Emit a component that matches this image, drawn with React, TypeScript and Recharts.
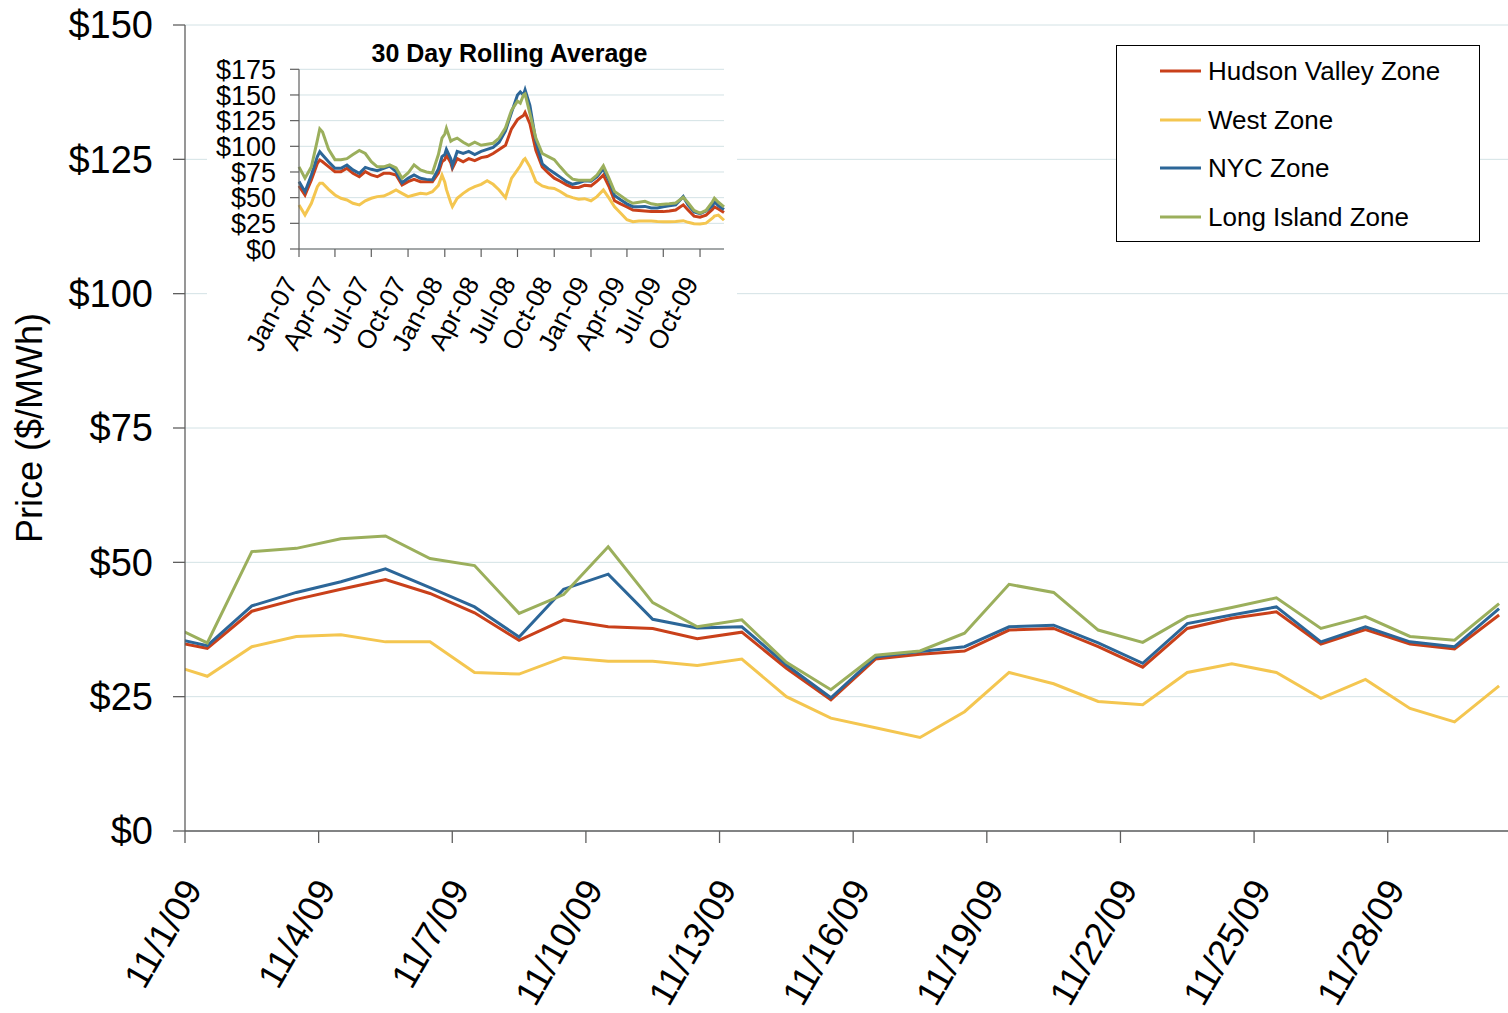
import React from 'react';
import { LineChart, Line, XAxis, YAxis, CartesianGrid, Legend } from 'recharts';

const FONT = '"Liberation Sans", Arial, Helvetica, sans-serif';
const AXIS = '#5f5f5f';
const GRID = '#d3e2e5';

const C_HV = '#C9401A';
const C_WEST = '#F4C650';
const C_NYC = '#2C6698';
const C_LI = '#9BAF5C';

const seriesNames = ['Hudson Valley Zone', 'West Zone', 'NYC Zone', 'Long Island Zone'];

// ---------- Main chart: daily prices, November 2009 (day 0 = 10/31/09) ----------
const days = [0, 1, 2, 3, 4, 5, 6, 7, 8, 9, 10, 11, 12, 13, 14, 15, 16, 17, 18, 19, 20, 21, 22, 23, 24, 25, 26, 27, 28, 29, 30];
const hudsonValley = [35.6, 34.0, 40.9, 43.1, 45.0, 46.8, 44.2, 40.6, 35.5, 39.3, 38.0, 37.7, 35.8, 37.0, 30.3, 24.4, 32.0, 32.9, 33.5, 37.4, 37.7, 34.3, 30.5, 37.7, 39.6, 40.8, 34.8, 37.5, 34.8, 33.9, 40.2];
const westZone = [31.4, 28.8, 34.3, 36.2, 36.5, 35.2, 35.2, 29.5, 29.2, 32.3, 31.6, 31.6, 30.8, 32.0, 25.0, 21.0, 19.2, 17.4, 22.2, 29.5, 27.4, 24.1, 23.5, 29.5, 31.1, 29.5, 24.7, 28.2, 22.8, 20.3, 27.0];
const nycZone = [36.3, 34.5, 41.9, 44.4, 46.4, 48.8, 45.3, 41.7, 36.1, 45.0, 47.8, 39.4, 37.8, 38.0, 30.9, 24.8, 32.4, 33.4, 34.3, 38.0, 38.3, 35.0, 31.2, 38.6, 40.2, 41.7, 35.2, 38.0, 35.2, 34.3, 41.4];
const longIsland = [39.0, 35.0, 52.0, 52.6, 54.4, 54.9, 50.7, 49.4, 40.5, 44.0, 52.9, 42.5, 38.0, 39.3, 31.4, 26.3, 32.7, 33.5, 36.8, 45.9, 44.4, 37.4, 35.1, 39.9, 41.6, 43.4, 37.7, 39.9, 36.2, 35.5, 42.3];

const dayTickDays = [1, 4, 7, 10, 13, 16, 19, 22, 25, 28];
const dayTickLabels = ['11/1/09', '11/4/09', '11/7/09', '11/10/09', '11/13/09', '11/16/09', '11/19/09', '11/22/09', '11/25/09', '11/28/09'];
const priceTicks = [0, 25, 50, 75, 100, 125, 150];

// ---------- Inset: 30 day rolling average ----------
const rollDates = [
  '2007-01-01', '2007-01-16', '2007-02-01', '2007-02-16', '2007-02-22', '2007-03-01', '2007-03-16', '2007-04-01', '2007-04-16', '2007-05-01', '2007-05-16', '2007-06-01', '2007-06-16', '2007-07-01', '2007-07-16', '2007-08-01', '2007-08-16', '2007-09-01', '2007-09-16', '2007-10-01', '2007-10-16', '2007-11-01', '2007-11-16', '2007-12-01', '2007-12-16', '2007-12-25',
  '2008-01-01', '2008-01-05', '2008-01-16', '2008-01-20', '2008-02-01', '2008-02-16', '2008-03-01', '2008-03-16', '2008-04-01', '2008-04-16', '2008-05-01', '2008-05-16', '2008-06-01', '2008-06-16', '2008-07-01', '2008-07-08', '2008-07-16', '2008-07-20', '2008-08-01', '2008-08-16', '2008-09-01', '2008-09-16', '2008-10-01', '2008-10-16', '2008-11-01', '2008-11-16', '2008-12-01', '2008-12-16',
  '2009-01-01', '2009-01-16', '2009-02-01', '2009-02-16', '2009-03-01', '2009-03-16', '2009-04-01', '2009-04-16', '2009-05-01', '2009-05-16', '2009-06-01', '2009-06-16', '2009-07-01', '2009-07-16', '2009-08-01', '2009-08-20', '2009-09-01', '2009-09-16', '2009-10-01', '2009-10-16', '2009-11-01', '2009-11-06', '2009-11-16', '2009-11-30',
];
const rollHV = [
  61.4, 52.6, 67.2, 83.5, 86.7, 85, 80.2, 75.3, 75.3, 78.6, 73.7, 70.4, 75.3, 72.1, 70.4, 73.7, 73.7, 72.1, 62.3, 65.6, 67.8, 65.6, 65.6, 65.6, 74, 85,
  87, 91.5, 84, 78.5, 88, 85, 88, 86, 89, 90, 93, 97, 101, 117, 126, 128, 130, 133, 122, 96, 80, 74, 69, 66, 62.5, 60, 60, 62,
  61.5, 66, 72, 60, 47, 44, 41, 38, 37.5, 37, 36.5, 36.4, 36.4, 37, 38, 43, 38, 32, 31, 33, 38.5, 41, 39, 35.5,
];
const rollWest = [
  42.9, 33.1, 44.5, 60.7, 64, 64, 58.1, 52.6, 49.4, 47.7, 44.5, 42.9, 47, 49.4, 51, 51.6, 54.2, 57.5, 54.2, 51, 52.6, 54.2, 53.5, 55.8, 62, 72,
  65, 58, 45, 41.2, 49.4, 54.2, 58, 60.7, 63, 66.5, 63, 57.5, 50, 68.8, 77, 81, 86.7, 88, 80, 65.6, 61.4, 59.7, 59, 56, 52, 50, 48.5, 49,
  47, 51, 57.5, 49, 41, 35, 28.5, 26.6, 27.3, 27.3, 27.3, 26.8, 26.6, 26.6, 26.8, 27.6, 26, 24.7, 24.4, 25.2, 30, 32, 33, 28,
];
const rollNYC = [
  65.6, 55.8, 72, 90, 94.8, 91.6, 85, 78.6, 78.6, 81.8, 77, 73.7, 79.5, 77.6, 76.3, 78.6, 80.8, 75.3, 64.6, 68.8, 72.1, 68.8, 67.8, 67.2, 78, 90,
  92, 97, 88, 81, 95, 93, 95, 92, 95, 97, 99, 104, 115, 133, 150, 153, 150, 155, 140, 105, 83, 78, 74, 70, 65.5, 63, 64.5, 66.5,
  66, 70.5, 78, 66, 52, 48, 44, 41.2, 41.2, 41.5, 40, 40, 41.2, 42, 43, 51, 43, 36, 34.5, 37, 42, 46, 42, 38.5,
];
const rollLI = [
  80, 69, 80, 106, 117, 114, 97, 87, 87, 88, 92, 96, 93, 85, 80, 80, 82, 79, 69, 74, 82, 77, 75, 74, 92, 108,
  112, 117.5, 105, 106, 108, 104, 101, 104, 101, 102, 103, 108, 118, 135, 144, 142, 150, 151, 132, 108, 93, 90, 87, 80, 73, 68, 67, 67,
  67, 72, 81, 68, 56, 52, 47.5, 44.5, 45.5, 46.5, 44, 43, 43.5, 44, 44.8, 50.3, 45, 37.5, 35, 37.5, 46, 49.4, 45.5, 41,
];
const quarterTicks = ['2007-01-01', '2007-04-01', '2007-07-01', '2007-10-01', '2008-01-01', '2008-04-01', '2008-07-01', '2008-10-01', '2009-01-01', '2009-04-01', '2009-07-01', '2009-10-01'];
const quarterLabels = ['Jan-07', 'Apr-07', 'Jul-07', 'Oct-07', 'Jan-08', 'Apr-08', 'Jul-08', 'Oct-08', 'Jan-09', 'Apr-09', 'Jul-09', 'Oct-09'];
const insetStart = '2007-01-01';
const insetEnd = '2009-11-30';
const insetPriceTicks = [0, 25, 50, 75, 100, 125, 150, 175];

const mainData = days.map((d, i) => ({
  day: d,
  hv: hudsonValley[i],
  west: westZone[i],
  nyc: nycZone[i],
  li: longIsland[i],
}));

const insetData = rollDates.map((d, i) => ({
  t: Date.parse(d),
  hv: rollHV[i],
  west: rollWest[i],
  nyc: rollNYC[i],
  li: rollLI[i],
}));

const mainTickValues = dayTickDays.map((d) => d - 0.5);
const insetTickValues = quarterTicks.map((d) => Date.parse(d));

function MainXTick(props: any) {
  const { x, y, payload } = props;
  const idx = mainTickValues.indexOf(payload.value);
  const ax = x + 18;
  const ay = y + 44;
  return (
    <text x={ax} y={ay} transform={`rotate(-60 ${ax} ${ay})`} textAnchor="end" fontFamily={FONT} fontSize={36} fill="#000">
      {dayTickLabels[idx]}
    </text>
  );
}

function InsetXTick(props: any) {
  const { x, y, payload } = props;
  const idx = insetTickValues.indexOf(payload.value);
  const ax = x - 1;
  const ay = y + 24;
  return (
    <text x={ax} y={ay} transform={`rotate(-62 ${ax} ${ay})`} textAnchor="end" fontFamily={FONT} fontSize={26} fill="#000">
      {quarterLabels[idx]}
    </text>
  );
}

function YTitle() {
  return (
    <text x={42} y={428} transform="rotate(-90 42 428)" textAnchor="middle" fontFamily={FONT} fontSize={36} fill="#000">
      Price ($/MWh)
    </text>
  );
}

function LegendBox(props: any) {
  const payload = [...(props.payload || [])].sort(
    (a: any, b: any) => seriesNames.indexOf(a.value) - seriesNames.indexOf(b.value)
  );
  return (
    <div
      style={{
        width: 364,
        height: 197,
        border: '1px solid #000',
        boxSizing: 'border-box',
        background: '#fff',
        paddingTop: 0.5,
        fontFamily: FONT,
      }}
    >
      {payload.map((p: any) => (
        <div key={p.value} style={{ height: 48.7, display: 'flex', alignItems: 'center' }}>
          <svg width={41} height={6} style={{ marginLeft: 43, display: 'block' }}>
            <line x1={0} y1={3} x2={41} y2={3} stroke={p.color} strokeWidth={3} />
          </svg>
          <span style={{ marginLeft: 7, fontSize: 26, color: '#000', lineHeight: '30px', whiteSpace: 'nowrap' }}>{p.value}</span>
        </div>
      ))}
    </div>
  );
}

export default function App() {
  return (
    <div
      style={{
        position: 'absolute',
        left: 0,
        top: 0,
        width: 1508,
        height: 1013,
        background: '#fff',
        overflow: 'hidden',
        fontFamily: FONT,
      }}
    >
      <LineChart width={1508} height={1013} data={mainData} margin={{ top: 25, right: 0, bottom: 0, left: 0 }}>
        <CartesianGrid vertical={false} stroke={GRID} strokeWidth={1} />
        <XAxis
          dataKey="day"
          type="number"
          domain={[0.5, 30.2]}
          allowDataOverflow
          ticks={mainTickValues}
          interval={0}
          height={182}
          tickSize={12}
          axisLine={{ stroke: AXIS, strokeWidth: 1.3 }}
          tickLine={{ stroke: AXIS, strokeWidth: 1.3 }}
          tick={<MainXTick />}
        />
        <YAxis
          type="number"
          domain={[0, 150]}
          ticks={priceTicks}
          interval={0}
          width={185}
          tickSize={12}
          tickMargin={20}
          axisLine={{ stroke: AXIS, strokeWidth: 1.3 }}
          tickLine={{ stroke: AXIS, strokeWidth: 1.3 }}
          tick={{ fontSize: 38, fill: '#000', fontFamily: FONT }}
          tickFormatter={(v: number) => `$${v}`}
          label={<YTitle />}
        />
        <Legend
          layout="vertical"
          align="center"
          verticalAlign="middle"
          content={<LegendBox />}
          wrapperStyle={{ left: 1116, top: 45, width: 364, height: 197 }}
        />
        <Line type="linear" dataKey="hv" name={seriesNames[0]} stroke={C_HV} strokeWidth={3} dot={false} isAnimationActive={false} />
        <Line type="linear" dataKey="west" name={seriesNames[1]} stroke={C_WEST} strokeWidth={3} dot={false} isAnimationActive={false} />
        <Line type="linear" dataKey="nyc" name={seriesNames[2]} stroke={C_NYC} strokeWidth={3} dot={false} isAnimationActive={false} />
        <Line type="linear" dataKey="li" name={seriesNames[3]} stroke={C_LI} strokeWidth={3} dot={false} isAnimationActive={false} />
      </LineChart>

      <div style={{ position: 'absolute', left: 207, top: 30, width: 530, height: 330, background: '#fff' }}>
        <LineChart width={530} height={330} data={insetData} margin={{ top: 39.3, right: 13, bottom: 0, left: 0 }}>
          <CartesianGrid vertical={false} stroke={GRID} strokeWidth={1} />
          <XAxis
            dataKey="t"
            type="number"
            scale="time"
            domain={[Date.parse(insetStart), Date.parse(insetEnd)]}
            ticks={insetTickValues}
            interval={0}
            height={111}
            tickSize={8}
            axisLine={{ stroke: AXIS, strokeWidth: 1.2 }}
            tickLine={{ stroke: AXIS, strokeWidth: 1.2 }}
            tick={<InsetXTick />}
          />
          <YAxis
            type="number"
            domain={[0, 175]}
            ticks={insetPriceTicks}
            interval={0}
            width={92}
            tickSize={9}
            tickMargin={14}
            axisLine={{ stroke: AXIS, strokeWidth: 1.2 }}
            tickLine={{ stroke: AXIS, strokeWidth: 1.2 }}
            tick={{ fontSize: 27, fill: '#000', fontFamily: FONT }}
            tickFormatter={(v: number) => `$${v}`}
          />
          <Line type="linear" dataKey="hv" name={seriesNames[0]} stroke={C_HV} strokeWidth={3} dot={false} isAnimationActive={false} />
          <Line type="linear" dataKey="west" name={seriesNames[1]} stroke={C_WEST} strokeWidth={3} dot={false} isAnimationActive={false} />
          <Line type="linear" dataKey="nyc" name={seriesNames[2]} stroke={C_NYC} strokeWidth={3} dot={false} isAnimationActive={false} />
          <Line type="linear" dataKey="li" name={seriesNames[3]} stroke={C_LI} strokeWidth={3} dot={false} isAnimationActive={false} />
        </LineChart>
        <div
          style={{
            position: 'absolute',
            left: 102.5,
            top: 11,
            width: 400,
            textAlign: 'center',
            fontFamily: FONT,
            fontWeight: 'bold',
            fontSize: 25,
            lineHeight: '25px',
            color: '#000',
            whiteSpace: 'nowrap',
          }}
        >
          30 Day Rolling Average
        </div>
      </div>
    </div>
  );
}
